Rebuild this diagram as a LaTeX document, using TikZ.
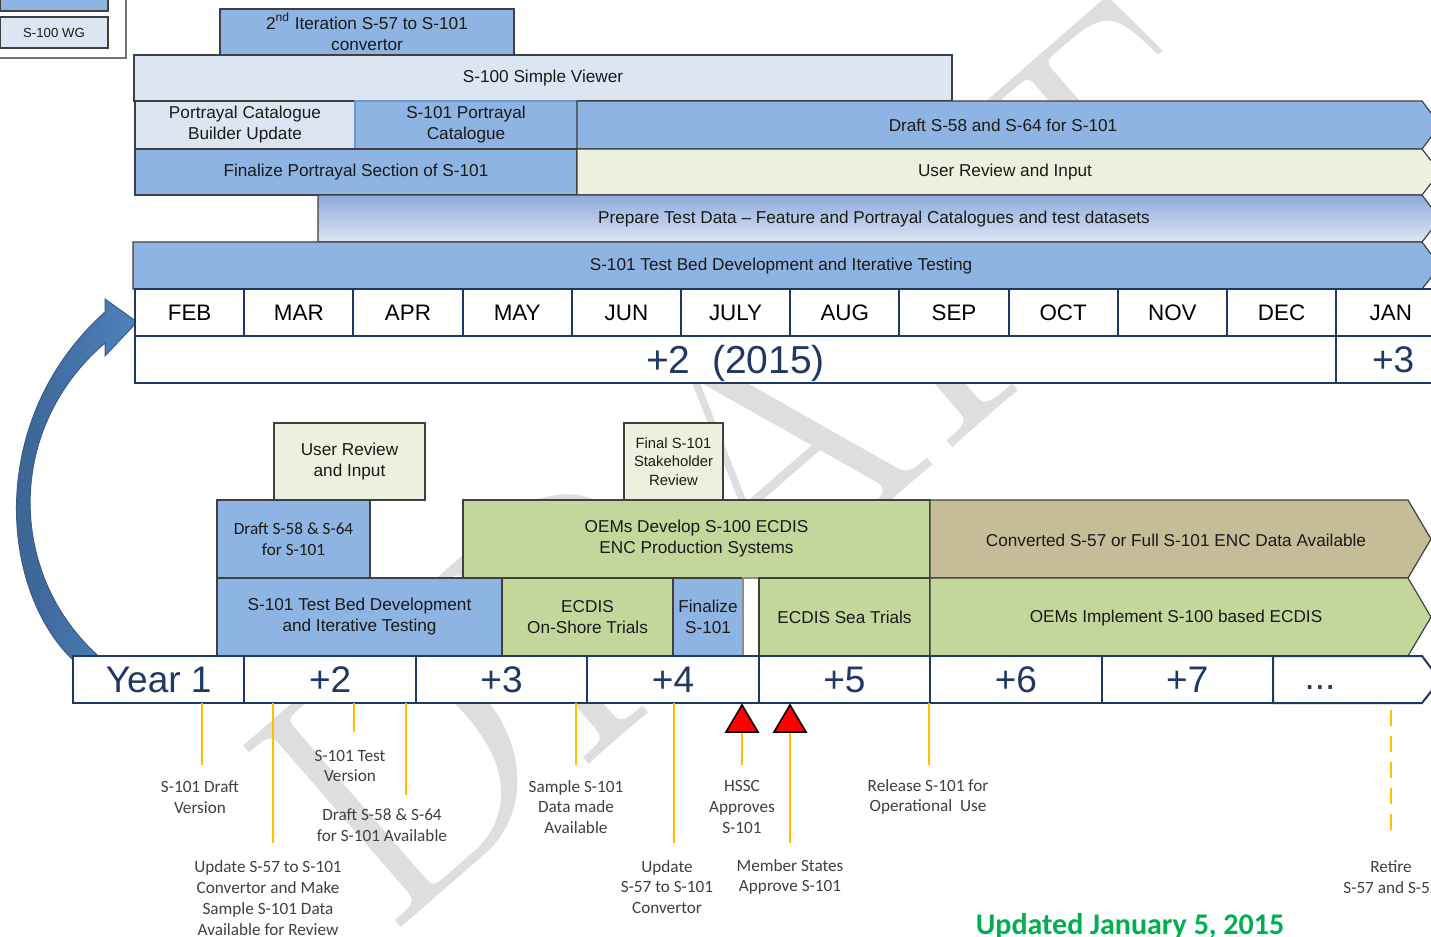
\documentclass[tikz,border=0pt]{standalone}
\usepackage{fontspec}
\newfontfamily\arialf{Liberation Sans}
\newfontfamily\calib{Carlito}
\definecolor{cB}{HTML}{8EB4E3}
\definecolor{cBd}{HTML}{6F97C9}
\definecolor{cBt}{HTML}{8EAADB}
\definecolor{cLB}{HTML}{DCE6F2}
\definecolor{cLG}{HTML}{EBF1DE}
\definecolor{cG}{HTML}{C3D69B}
\definecolor{cT}{HTML}{C4BD97}
\definecolor{navy}{HTML}{1F3864}
\definecolor{orng}{HTML}{FFC000}
\definecolor{wm}{HTML}{DEDEDE}
\definecolor{arrowblue}{HTML}{4F81BD}
\definecolor{arrowdark}{HTML}{385D8A}
\definecolor{ttl}{HTML}{00B050}
\definecolor{txt}{HTML}{1A1A1A}
\definecolor{lblc}{HTML}{404040}
\tikzset{
  rect/.style n args={4}{minimum width={((#3)-(#1))*0.5pt}, minimum height={((#4)-(#2))*0.5pt},
    at={({((#1)+(#3))/2},{((#2)+(#4))/2})}},
  bx/.style={draw=black!75, line width=0.6pt, inner sep=0pt, outer sep=0pt, align=center, text=txt,
    font=\arialf\fontsize{8.6}{10.5}\selectfont},
  chev/.style={draw=black!75, line width=0.6pt},
  txtn/.style={inner sep=0pt, align=center, text=txt, font=\arialf\fontsize{8.6}{10.5}\selectfont},
  tcell/.style={draw=navy, line width=1pt, fill=white, inner sep=0pt, outer sep=0pt, text=black,
    font=\arialf\fontsize{11.2}{13}\selectfont},
  ycell/.style={draw=navy, line width=1pt, fill=white, inner sep=0pt, outer sep=0pt, text=navy,
    font=\arialf\fontsize{18.5}{20}\selectfont},
  lbl/.style={align=center, inner sep=0pt, text=lblc, font=\calib\fontsize{8.6}{10.4}\selectfont},
  ms/.style={draw=orng, line width=1pt},
  tri/.style={draw=black, line width=0.8pt, fill=red},
}
\begin{document}
\begin{tikzpicture}[x=0.5pt,y=-0.5pt]
\useasboundingbox (0,0) rectangle (1431,937);
\clip (0,0) rectangle (1431,937);
\fill[white] (0,0) rectangle (1431,937);
% watermark
\node[rotate=41, anchor=base west, inner sep=0pt, text=wm, font=\fontsize{176}{176}\selectfont] (wmk) at (387,940) {DRAFT};
% legend
\draw[black!55, line width=0.6pt] (126,-3) -- (126,58) -- (-3,58);
\node[bx, fill=cB, rect={0}{-5}{108}{11}] (leg1) {};
\node[bx, fill=cLB, rect={0}{17}{108}{48}, font=\arialf\fontsize{6.6}{8}\selectfont] (leg2) {S-100 WG};
% top bars
\node[bx, fill=cB, rect={220}{9}{514}{55}] (iter) {2\textsuperscript{nd} Iteration S-57 to S-101\\convertor};
\node[bx, fill=cLB, rect={134}{55}{952}{101}] (view) {S-100 Simple Viewer};
\node[bx, fill=cLB, rect={135}{101}{355}{149}] (pcb) {Portrayal Catalogue\\Builder Update};
\node[bx, fill=cB, draw=cBd, rect={355}{101}{577}{149}] (spc) {S-101 Portrayal\\Catalogue};
\draw[chev, fill=cB] (577,101) -- (1422,101) -- (1440,125) -- (1422,149) -- (577,149) -- cycle;
\node[txtn] (dr) at (1003,125) {Draft S-58 and S-64 for S-101};
\node[bx, fill=cB, rect={135}{149}{577}{195}] (fin) {Finalize Portrayal Section of S-101};
\draw[chev, fill=cLG] (577,149) -- (1422,149) -- (1440,172) -- (1422,195) -- (577,195) -- cycle;
\node[txtn] (urv) at (1005,172) {User Review and Input};
\path[chev, top color=cBt, bottom color=cLB] (318,195) -- (1422,195) -- (1440,219) -- (1422,242) -- (318,242) -- cycle;
\node[txtn] (prep) at (874,219) {Prepare Test Data – Feature and Portrayal Catalogues and test datasets};
\draw[chev, fill=cB] (133,242) -- (1422,242) -- (1440,266) -- (1422,289) -- (133,289) -- cycle;
\node[txtn] (tb) at (781,266) {S-101 Test Bed Development and Iterative Testing};
% curved arrow
\path[draw=arrowdark, line width=0.5pt, left color=arrowdark, right color=arrowblue]
  (73,660) .. controls (0,590) and (-15,420) .. (105,312) -- (105,299) -- (137,322) -- (105,356) -- (105,343)
  .. controls (3,430) and (8,580) .. (103,660) -- cycle;
% month table
\foreach \m [count=\i from 0] in {FEB,MAR,APR,MAY,JUN,JULY,AUG,SEP,OCT,NOV,DEC,JAN}
  \node[tcell, rect={135+109.2*\i}{289}{135+109.2*(\i+1)}{336}] (m\i) {\m};
\node[ycell, text depth=0pt, font=\arialf\fontsize{19.5}{21}\selectfont, rect={135}{336}{1336.2}{383}] (y2015) {+2\ \ (2015)};
\node[ycell, rect={1336.2}{336}{1450}{383}] (y3) {+3};
% lower bars
\node[bx, fill=cLG, rect={274}{423}{425}{500}] (ur2) {User Review\\and Input};
\node[bx, fill=cLG, rect={624}{423}{723}{500}, font=\arialf\fontsize{7.4}{9.3}\selectfont] (fsr) {Final S-101\\Stakeholder\\Review};
\node[bx, fill=cB, rect={217}{500}{370}{578}, font=\calib\fontsize{8.6}{10.4}\selectfont] (dr2) {Draft S-58 \& S-64\\for S-101};
\node[bx, fill=cG, rect={463}{500}{930}{578}] (oem) {OEMs Develop S-100 ECDIS\\ENC Production Systems};
\draw[chev, fill=cT] (930,500) -- (1408,500) -- (1431,539) -- (1408,578) -- (930,578) -- cycle;
\node[txtn] (conv) at (1176,540) {Converted S-57 or Full S-101 ENC Data Available};
\node[bx, fill=cB, rect={217}{578}{502}{656}] (tb2) {S-101 Test Bed Development\\and Iterative Testing};
\node[bx, fill=cG, rect={502}{578}{673}{656}] (ons) {ECDIS\\On-Shore Trials};
\node[bx, fill=cB, rect={673}{578}{743}{656}] (fin2) {Finalize\\S-101};
\node[bx, fill=white, draw=black!45, rect={743}{578}{759}{656}] (gap) {};
\node[bx, fill=cG, rect={759}{578}{930}{656}] (sea) {ECDIS Sea Trials};
\draw[chev, fill=cG] (930,578) -- (1408,578) -- (1431,617) -- (1408,656) -- (930,656) -- cycle;
\node[txtn] (impl) at (1176,618) {OEMs Implement S-100 based ECDIS};
% year timeline
\foreach \t [count=\i from 0] in {Year 1,+2,+3,+4,+5,+6,+7}
  \node[ycell, rect={73+171.43*\i}{656}{73+171.43*(\i+1)}{703}] (yr\i) {\t};
\draw[draw=navy, line width=1pt, fill=white] (1273,656) -- (1422,656) -- (1440,680) -- (1422,703) -- (1273,703) -- cycle;
\node[inner sep=0pt, text=navy, font=\arialf\fontsize{18.5}{20}\selectfont] (yr7) at (1320,688) {...};
% milestones
\foreach \n/\x/\ya/\yb in {a/202/703/765, b/273/703/843, c/354/703/732, d/406/703/795, e/576/703/765, f/674/703/843, g/742/732/765, h/790/732/843, i/929/703/765} {
  \coordinate (s\n) at (\x,\ya);
  \coordinate (e\n) at (\x,\yb);
  \draw[ms] (s\n) -- (e\n);
}
\coordinate (sj) at (1391,710);
\coordinate (ej) at (1391,840);
\draw[ms, dash pattern=on 8pt off 5pt] (sj) -- (ej);
\draw[tri] (742,705) -- (758,732) -- (726,732) -- cycle;
\draw[tri] (790,705) -- (806,732) -- (774,732) -- cycle;
\node[lbl] (la) at (200,797) {S-101 Draft\\Version};
\node[lbl] (lb) at (268,898) {Update S-57 to S-101\\Convertor and Make\\Sample S-101 Data\\Available for Review};
\node[lbl] (lc) at (350,766) {S-101 Test\\Version};
\node[lbl] (ld) at (382,825) {Draft S-58 \& S-64\\for S-101 Available};
\node[lbl] (le) at (576,807) {Sample S-101\\Data made\\Available};
\node[lbl] (lf) at (667,887) {Update\\S-57 to S-101\\Convertor};
\node[lbl] (lg) at (742,807) {HSSC\\Approves\\S-101};
\node[lbl] (lh) at (790,877) {Member States\\Approve S-101};
\node[lbl] (li) at (928,797) {Release S-101 for\\Operational\ \ Use};
\node[lbl] (lj) at (1391,877) {Retire\\S-57 and S-52};
\node[anchor=base, inner sep=0pt, text=ttl, font=\calib\bfseries\fontsize{15}{17}\selectfont] (title) at (1130,934) {Updated January 5, 2015};
\end{tikzpicture}
\end{document}
